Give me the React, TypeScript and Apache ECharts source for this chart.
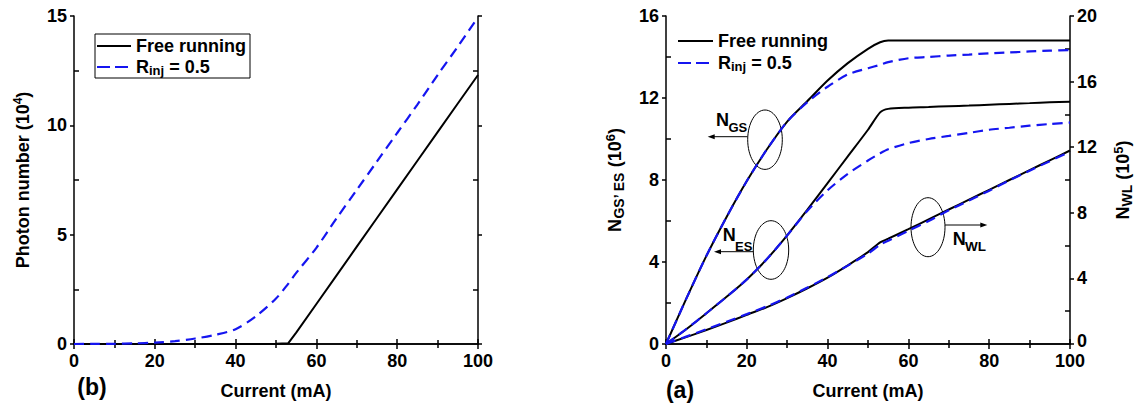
import React, { useEffect, useRef } from 'react';
import * as echarts from 'echarts';

const FONT = '"Liberation Sans", Arial, Helvetica, sans-serif';

// Injection current (mA)
const currents = [0, 5, 10, 15, 20, 25, 30, 35, 40, 45, 50, 53, 55, 60, 65, 70, 75, 80, 85, 90, 95, 100];

// (b) Photon number (10^4)
const photonFree = [0, 0, 0, 0, 0, 0, 0, 0, 0, 0, 0.01, 0.03, 0.52, 1.83, 3.14, 4.45, 5.76, 7.07, 8.38, 9.69, 11.0, 12.3];
const photonInj = [0, 0.005, 0.01, 0.03, 0.06, 0.13, 0.25, 0.42, 0.68, 1.27, 2.08, 2.75, 3.25, 4.4, 5.75, 7.05, 8.35, 9.65, 10.95, 12.3, 13.6, 14.95];

// (a) N_GS, N_ES (10^6)
const gsFree = [0, 2.2, 4.3, 6.2, 7.95, 9.5, 10.85, 11.85, 12.85, 13.7, 14.4, 14.72, 14.8, 14.8, 14.8, 14.8, 14.8, 14.8, 14.8, 14.8, 14.8, 14.8];
const gsInj = [0, 2.2, 4.3, 6.2, 7.95, 9.5, 10.85, 11.8, 12.55, 13.15, 13.45, 13.62, 13.75, 13.94, 14.0, 14.07, 14.12, 14.18, 14.22, 14.27, 14.31, 14.34];
const esFree = [0, 0.72, 1.5, 2.3, 3.15, 4.15, 5.3, 6.55, 7.85, 9.15, 10.45, 11.3, 11.47, 11.53, 11.56, 11.6, 11.63, 11.67, 11.71, 11.75, 11.79, 11.82];
const esInj = [0, 0.72, 1.5, 2.3, 3.15, 4.15, 5.3, 6.5, 7.5, 8.3, 8.95, 9.3, 9.5, 9.8, 10.0, 10.15, 10.3, 10.45, 10.55, 10.65, 10.73, 10.8];
// (a) N_WL (10^5)
const wlFree = [0, 0.42, 0.85, 1.3, 1.78, 2.25, 2.8, 3.4, 4.05, 4.8, 5.6, 6.2, 6.42, 7.0, 7.6, 8.2, 8.8, 9.4, 10.0, 10.6, 11.2, 11.8];
const wlInj = [0, 0.45, 0.9, 1.36, 1.82, 2.3, 2.84, 3.44, 4.08, 4.78, 5.52, 6.05, 6.3, 6.9, 7.5, 8.15, 8.75, 9.35, 9.97, 10.57, 11.15, 11.72];

const legendNames = ['Free running', 'Rinj = 0.5'];

const pairs = (ys: number[]) => currents.map((x, i) => [x, ys[i]]);

const black = '#000000';
const blue = '#1515f0';

const tickLabel = { color: '#000', fontSize: 18, fontWeight: 'bold', fontFamily: FONT };
const lineAx = { show: true, lineStyle: { color: '#000', width: 1.5 } };
const tickLine = { color: '#000', width: 1.5 };

function xBottom(grid: number) {
  return {
    type: 'value', gridIndex: grid, position: 'bottom', min: 0, max: 100, interval: 20,
    axisLine: lineAx,
    axisTick: { show: true, inside: true, length: 5, lineStyle: tickLine },
    minorTick: { show: true, splitNumber: 2, length: 4, lineStyle: tickLine },
    axisLabel: { ...tickLabel, margin: 8 },
    splitLine: { show: false },
    name: 'Current (mA)', nameLocation: 'middle', nameGap: 38,
    nameTextStyle: { color: '#000', fontSize: 18, fontWeight: 'bold', fontFamily: FONT },
  };
}
function xTop(grid: number) {
  return {
    type: 'value', gridIndex: grid, position: 'top', min: 0, max: 100, interval: 20,
    axisLine: lineAx,
    axisTick: { show: true, inside: true, length: 5, lineStyle: tickLine },
    minorTick: { show: true, splitNumber: 2, length: 4, lineStyle: tickLine },
    axisLabel: { show: false },
    splitLine: { show: false },
  };
}
function yMain(grid: number, pos: string, max: number, interval: number, labels: boolean, liftZero: boolean, extra: any = {}) {
  return {
    type: 'value', gridIndex: grid, position: pos, min: 0, max, interval,
    axisLine: lineAx,
    axisTick: { show: true, inside: false, length: 4, lineStyle: tickLine },
    axisLabel: labels
      ? {
          ...tickLabel, margin: 7, lineHeight: 12,
          formatter: (v: number) => (liftZero && v === 0 ? '{z|0}' : String(v)),
          rich: { z: { ...tickLabel, lineHeight: 12, padding: [0, 0, 6, 0] } },
        }
      : { show: false },
    splitLine: { show: false },
    ...extra,
  };
}
function yMinor(grid: number, pos: string, max: number, interval: number) {
  return {
    type: 'value', gridIndex: grid, position: pos, min: 0, max, interval,
    axisLine: { show: false },
    axisTick: { show: false, inside: true },
    minorTick: { show: true, splitNumber: 2, length: 5, lineStyle: tickLine },
    axisLabel: { show: false },
    splitLine: { show: false },
  };
}

const nameStyle = (rich: any) => ({
  color: '#000', fontSize: 18, fontWeight: 'bold', fontFamily: FONT, lineHeight: 22, rich,
});
const richBase = { color: '#000', fontWeight: 'bold', fontFamily: FONT };

function lineSeries(name: string, xi: number, yi: number, ys: number[], dashed: boolean, smooth: number | boolean = 0.25) {
  return {
    type: 'line', name, xAxisIndex: xi, yAxisIndex: yi, data: pairs(ys),
    showSymbol: false, symbol: 'none', smooth,
    lineStyle: dashed ? { color: blue, width: 2.2, type: [10, 6] } : { color: black, width: 2 },
    itemStyle: { color: dashed ? blue : black },
    z: dashed ? 3 : 2,
  };
}

const legendRich = {
  r: { ...richBase, fontSize: 18, lineHeight: 20 },
  s: { ...richBase, fontSize: 13, lineHeight: 14, verticalAlign: 'bottom' },
};
const legendFmt = (n: string) => (n === legendNames[0] ? '{r|Free running}' : '{r|R}{s|inj}{r| = 0.5}');

function annText(x: number, y: number, t: string, size: number) {
  return { type: 'text', x, y, style: { text: t, fill: '#000', font: `bold ${size}px ${FONT}`, textAlign: 'left', textVerticalAlign: 'middle' } };
}
function ellipse(cx: number, cy: number, rx: number, ry: number) {
  return { type: 'ellipse', shape: { cx, cy, rx, ry }, style: { fill: 'none', stroke: '#000', lineWidth: 1 } };
}
function arrow(x1: number, x2: number, y: number) {
  const dir = x2 > x1 ? 1 : -1;
  return [
    { type: 'line', shape: { x1, y1: y, x2: x2 - dir * 6, y2: y }, style: { stroke: '#000', lineWidth: 1 } },
    { type: 'polygon', shape: { points: [[x2, y], [x2 - dir * 7, y - 2.5], [x2 - dir * 7, y + 2.5]] }, style: { fill: '#000' } },
  ];
}

const legendCommon = {
  data: [
    { name: legendNames[0] },
    { name: legendNames[1], lineStyle: { type: [13, 5] } },
  ],
  orient: 'vertical', itemHeight: 14, selectedMode: false,
  itemStyle: { opacity: 0 },
  formatter: legendFmt, textStyle: { ...richBase, fontSize: 18, rich: legendRich },
};

export default function App() {
  const ref = useRef<HTMLDivElement>(null);
  useEffect(() => {
    document.body.style.margin = '0';
    const chart = echarts.init(ref.current!, undefined, { renderer: 'svg' });
    const option: any = {
      animation: false,
      backgroundColor: '#fff',
      textStyle: { fontFamily: FONT },
      grid: [
        { left: 74, top: 16, width: 404, height: 328 },
        { left: 666, top: 16, width: 404, height: 328 },
      ],
      xAxis: [xBottom(0), xTop(0), xBottom(1), xTop(1)],
      yAxis: [
        yMain(0, 'left', 15, 5, true, false, {
          name: 'Photon number (10{sup|4})', nameLocation: 'middle', nameGap: 40, nameRotate: 90,
          nameTextStyle: nameStyle({ sup: { ...richBase, fontSize: 12, lineHeight: 12, verticalAlign: 'top' } }),
        }),
        yMinor(0, 'left', 15, 5),
        yMain(0, 'right', 15, 5, false, false),
        yMinor(0, 'right', 15, 5),
        yMain(1, 'left', 16, 4, true, false, {
          name: 'N{sub|GS\u2019 ES} (10{sup|6})', nameLocation: 'middle', nameGap: 40, nameRotate: 90,
          nameTextStyle: nameStyle({
            sub: { ...richBase, fontSize: 14, lineHeight: 12, verticalAlign: 'bottom' },
            sup: { ...richBase, fontSize: 13, lineHeight: 12, verticalAlign: 'top' },
          }),
        }),
        yMinor(1, 'left', 16, 4),
        yMain(1, 'right', 20, 4, true, true, {
          name: 'N{sub|WL} (10{sup|5})', nameLocation: 'middle', nameGap: 42, nameRotate: 90,
          nameTextStyle: nameStyle({
            sub: { ...richBase, fontSize: 14, lineHeight: 12, verticalAlign: 'bottom' },
            sup: { ...richBase, fontSize: 13, lineHeight: 12, verticalAlign: 'top' },
          }),
        }),
        yMinor(1, 'right', 20, 4),
      ],
      legend: [
        {
          ...legendCommon, left: 95, top: 34, itemWidth: 34, itemGap: 3,
          padding: [3, 4, 1, 1], borderColor: '#000', borderWidth: 1,
        },
        {
          ...legendCommon, left: 677, top: 32, itemWidth: 35, itemGap: 4, padding: 0,
        },
      ],
      series: [
        lineSeries(legendNames[0], 0, 0, photonFree, false, false),
        lineSeries(legendNames[1], 0, 0, photonInj, true, 0.3),
        lineSeries(legendNames[0], 2, 4, gsFree, false),
        lineSeries(legendNames[0], 2, 4, esFree, false),
        lineSeries(legendNames[0], 2, 6, wlFree, false),
        lineSeries(legendNames[1], 2, 4, gsInj, true),
        lineSeries(legendNames[1], 2, 4, esInj, true),
        lineSeries(legendNames[1], 2, 6, wlInj, true),
      ],
      graphic: [
        { type: 'text', x: 92, y: 387, style: { text: '(b)', fill: '#000', font: `bold 23px ${FONT}`, textAlign: 'center', textVerticalAlign: 'middle' } },
        { type: 'text', x: 680, y: 390, style: { text: '(a)', fill: '#000', font: `bold 23px ${FONT}`, textAlign: 'center', textVerticalAlign: 'middle' } },
        ellipse(765, 139.7, 17.3, 29.7),
        ...arrow(747.7, 707.7, 136.7),
        annText(716, 119.5, 'N', 18),
        annText(728.5, 127, 'GS', 13),
        ellipse(771, 250, 17.7, 29.3),
        ...arrow(753.3, 714, 251.7),
        annText(722.7, 235, 'N', 18),
        annText(735, 246, 'ES', 13),
        ellipse(928, 227.2, 17, 29.5),
        ...arrow(945, 987.3, 225),
        annText(952.7, 239.2, 'N', 18),
        annText(965, 246.4, 'WL', 13.5),
      ],
    };
    chart.setOption(option);
    return () => chart.dispose();
  }, []);
  return <div ref={ref} style={{ width: 1137, height: 408 }} />;
}
